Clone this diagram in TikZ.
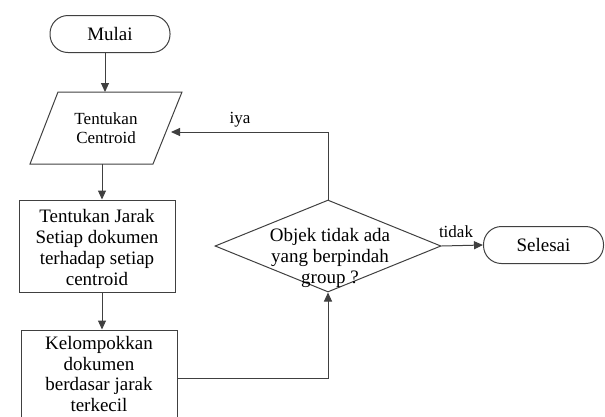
\documentclass[tikz,border=0pt]{standalone}
\usepackage{fontspec}
\setmainfont{Liberation Serif}
\usetikzlibrary{arrows.meta,shapes.geometric,calc}

\tikzset{
  line/.style={draw=black!75, line width=1pt},
  arr/.style={line, -{Triangle[length=9pt,width=8pt]}},
  term/.style={line, rounded corners=18pt, minimum width=120pt, minimum height=37pt,
               inner sep=0pt, font=\fontsize{19}{21}\selectfont},
  proc/.style={line, minimum width=156pt, inner sep=0pt},
  dec/.style={line, diamond, inner sep=0pt, minimum width=226pt, minimum height=92pt},
  txt/.style={align=center, inner sep=0pt, font=\fontsize{19}{21}\selectfont},
  small/.style={align=center, inner sep=0pt, font=\fontsize{17}{19}\selectfont},
  lbl/.style={inner sep=0pt, font=\fontsize{17}{19}\selectfont}
}

\begin{document}
\begin{tikzpicture}[x=1pt, y=-1pt]
  \useasboundingbox (0,0) rectangle (605,416);

  % start terminator
  \node[term] (start) at (110,34) {Mulai};

  % input: centroids (parallelogram)
  \coordinate (cent-tl) at (58,92);
  \coordinate (cent-tr) at (182,92);
  \coordinate (cent-br) at (153,164);
  \coordinate (cent-bl) at (30,164);
  \draw[line] (cent-tl) -- (cent-tr) -- (cent-br) -- (cent-bl) -- cycle;
  \node[small] (cent) at (106,128) {Tentukan\\Centroid};
  \coordinate (cent-n) at (105,92);
  \coordinate (cent-s) at (102,164);
  \coordinate (cent-e) at (171,132);

  % process boxes
  \node[proc, minimum height=92pt] (dist) at (97,246) {};
  \node[txt] (dist-t) at (97,247) {Tentukan Jarak\\Setiap dokumen\\terhadap setiap\\centroid};

  \node[proc, minimum height=96pt] (grp) at (99,378) {};
  \node[txt, font=\fontsize{19}{20.5}\selectfont] (grp-t) at (99,374)
    {Kelompokkan\\dokumen\\berdasar jarak\\terkecil};

  % decision
  \node[dec] (check) at (328,246) {};
  \node[txt] (check-t) at (330,258) {Objek tidak ada\\yang berpindah\\group ?};

  % end terminator
  \node[term] (stop) at (543.5,245) {Selesai};

  % connectors
  \draw[arr] (start.south -| cent-n) -- (cent-n);
  \draw[arr] (cent-s) -- (cent-s |- dist.north);
  \draw[arr] (cent-s |- dist.south) -- (cent-s |- grp.north);
  \draw[arr] (grp.east |- 0,378) -| (check.south);
  \draw[arr] (check.north) |- (cent-e);
  \draw[arr] (check.east) -- (stop.west);

  % branch labels
  \node[lbl] (yes) at (240,120) {iya};
  \node[lbl] (no) at (456,232) {tidak};
\end{tikzpicture}
\end{document}
